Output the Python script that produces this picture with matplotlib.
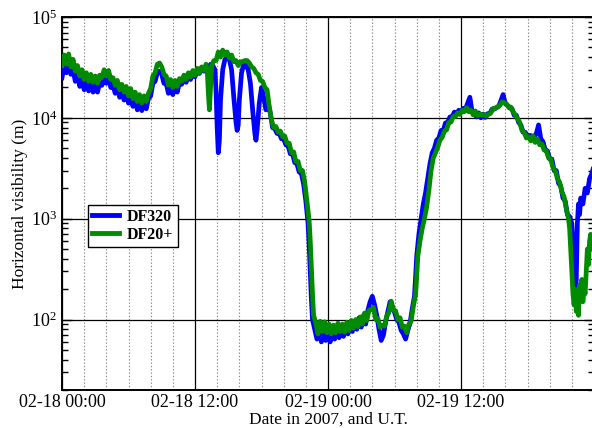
import matplotlib
matplotlib.use("Agg")
import matplotlib.pyplot as plt
import numpy as np
from matplotlib.ticker import LogLocator, NullFormatter, FixedLocator, FixedFormatter

plt.rcParams['font.family'] = ['Liberation Serif', 'DejaVu Serif']
plt.rcParams['mathtext.fontset'] = 'custom'
plt.rcParams['mathtext.rm'] = 'Liberation Serif'

# ---- data (hours since 2007-02-18 00:00 UT, visibility in m) ----
df20_hours = [0.0, 0.2, 0.4, 0.6, 0.8, 1.0, 1.2, 1.4, 1.6, 1.8, 2.0, 2.2, 2.4, 2.6, 2.8, 3.0, 3.2, 3.4, 3.6, 3.8,
              4.0, 4.2, 4.4, 4.6, 4.8, 5.0, 5.2, 5.4, 5.6, 5.8, 6.0, 6.2, 6.4, 6.6, 6.8, 7.0, 7.2, 7.4, 7.6, 7.8,
              8.0, 8.2, 8.4, 8.6, 8.8, 9.0, 9.2, 9.4, 9.6, 9.8, 10.0, 10.2, 10.4, 10.6, 10.8, 11.0, 11.2, 11.4, 11.6, 11.8,
              12.0, 12.2, 12.4, 12.6, 12.8, 13.0, 13.1, 13.2, 13.3, 13.4, 13.5, 13.7, 13.9, 14.1, 14.3, 14.5, 14.7, 14.9,
              15.1, 15.3, 15.5, 15.7, 15.9, 16.1, 16.3, 16.5, 16.7, 16.9, 17.1, 17.3, 17.5, 17.7, 17.9, 18.1, 18.3, 18.5,
              18.7, 18.9, 19.1, 19.3, 19.5, 19.7, 19.9, 20.1, 20.3, 20.5, 20.7, 20.9, 21.1, 21.3, 21.5, 21.7, 21.9, 22.1,
              22.3, 22.4, 22.5, 22.6, 22.7, 22.9, 23.1, 23.3, 23.5, 23.7, 23.9, 24.1, 24.3, 24.5, 24.7, 24.9, 25.1, 25.3,
              25.5, 25.7, 25.9, 26.1, 26.3, 26.5, 26.7, 26.9, 27.1, 27.3, 27.5, 27.7, 27.9, 28.1, 28.3, 28.5, 28.7, 28.9,
              29.1, 29.3, 29.5, 29.7, 29.9, 30.1, 30.3, 30.5, 30.7, 30.9, 31.1, 31.3, 31.5, 31.7, 31.9, 32.0, 32.1, 32.3,
              32.5, 32.7, 32.9, 33.1, 33.3, 33.5, 33.7, 33.9, 34.1, 34.3, 34.5, 34.7, 34.9, 35.1, 35.3, 35.5, 35.7, 35.9,
              36.1, 36.3, 36.5, 36.7, 36.9, 37.1, 37.3, 37.5, 37.7, 37.9, 38.1, 38.3, 38.5, 38.7, 38.9, 39.1, 39.3, 39.5,
              39.7, 39.9, 40.1, 40.3, 40.5, 40.7, 40.9, 41.1, 41.3, 41.5, 41.7, 41.9, 42.1, 42.3, 42.5, 42.7, 42.9, 43.1,
              43.3, 43.5, 43.7, 43.9, 44.1, 44.3, 44.5, 44.7, 44.9, 45.1, 45.3, 45.5, 45.7, 45.8, 45.9, 46.0, 46.1, 46.2,
              46.3, 46.4, 46.5, 46.6, 46.7, 46.8, 46.9, 47.0, 47.1, 47.2, 47.3, 47.4, 47.5, 47.6, 47.7, 47.8, 47.9]
df20_vis = [33000, 42000, 34000, 43000, 32000, 38000, 29000, 33000, 26000, 30000, 24000, 28000, 23000, 27000, 22500, 26000, 22000, 26500, 25000, 30000,
            26000, 29500, 24000, 25000, 21000, 23500, 19000, 21500, 18000, 20500, 16500, 19500, 15500, 18000, 14500, 17000, 14000, 16500, 14500, 17500,
            19500, 26000, 28000, 34000, 35000, 32000, 27000, 26000, 21000, 24000, 20000, 23500, 20500, 24500, 23000, 26500, 24000, 28000, 25500, 29500,
            26500, 31000, 28000, 32000, 29500, 34000, 30000, 18000, 12000, 20000, 33000, 37000, 37000, 45000, 40000, 47000, 42000, 45000,
            39000, 42000, 36000, 37000, 33000, 36000, 36000, 37000, 37000, 35000, 32000, 31000, 28000, 27000, 23500, 23000, 20000, 19000,
            13000, 9500, 8000, 8200, 7200, 7400, 6500, 6600, 5600, 5600, 4500, 4600, 3700, 3700, 3000, 3000, 2300, 1500,
            950, 600, 330, 180, 110, 92, 72, 96, 76, 95, 74, 90, 72, 88, 74, 92, 76, 90,
            75, 94, 78, 98, 82, 100, 85, 106, 90, 116, 98, 124, 125, 132, 100, 102, 84, 88,
            86, 108, 118, 152, 124, 122, 100, 104, 84, 86, 74, 90, 96, 135, 175, 260, 420, 600,
            800, 1000, 1300, 1900, 3000, 4000, 4500, 5100, 6000, 6400, 7400, 7600, 9000, 9100, 10300, 10300, 11200, 10800,
            11900, 11500, 12600, 11500, 11900, 10700, 11700, 10500, 10900, 10600, 10800, 10400, 10900, 11200, 12400, 12500, 12900, 13200,
            14400, 14200, 13800, 12700, 12800, 11500, 10700, 9800, 9000, 7500, 7200, 6300, 6500, 5900, 6600, 5700, 6200, 5400,
            5500, 4800, 4700, 4000, 3900, 3200, 3000, 2500, 2300, 1850, 1650, 1250, 1000, 800, 500, 300, 180, 140,
            200, 120, 160, 110, 220, 170, 250, 150, 200, 180, 300, 500, 350, 600, 700, 500, 650]

df320_hours = [0.0, 0.2, 0.4, 0.6, 0.8, 1.0, 1.2, 1.4, 1.6, 1.8, 2.0, 2.2, 2.4, 2.6, 2.8, 3.0, 3.2, 3.4, 3.6, 3.8,
               4.0, 4.2, 4.4, 4.6, 4.8, 5.0, 5.2, 5.4, 5.6, 5.8, 6.0, 6.2, 6.4, 6.6, 6.8, 7.0, 7.2, 7.4, 7.6, 7.8,
               8.0, 8.2, 8.4, 8.6, 8.8, 9.0, 9.2, 9.4, 9.6, 9.8, 10.0, 10.2, 10.4, 10.6, 10.8, 11.0, 11.2, 11.4, 11.6, 11.8,
               12.0, 12.2, 12.4, 12.6, 12.8, 13.0, 13.2, 13.4, 13.6, 13.8, 13.9, 14.0, 14.1, 14.2, 14.3, 14.5, 14.7, 14.9,
               15.1, 15.3, 15.5, 15.7, 15.8, 15.9, 16.0, 16.2, 16.4, 16.6, 16.8, 17.0, 17.2, 17.4, 17.5, 17.6, 17.8, 18.0,
               18.2, 18.4, 18.6, 18.8, 19.0, 19.2, 19.4, 19.6, 19.8, 20.0, 20.2, 20.4, 20.6, 20.8, 21.0, 21.2, 21.4, 21.6,
               21.8, 22.0, 22.2, 22.3, 22.4, 22.5, 22.6, 22.8, 23.0, 23.2, 23.4, 23.6, 23.8, 24.0, 24.2, 24.4, 24.6, 24.8,
               25.0, 25.2, 25.4, 25.6, 25.8, 26.0, 26.2, 26.4, 26.6, 26.8, 27.0, 27.2, 27.4, 27.6, 27.8, 28.0, 28.2, 28.4,
               28.6, 28.8, 29.0, 29.2, 29.4, 29.6, 29.8, 30.0, 30.2, 30.4, 30.6, 30.8, 31.0, 31.2, 31.4, 31.6, 31.8, 31.9,
               32.0, 32.2, 32.4, 32.6, 32.8, 33.0, 33.2, 33.4, 33.6, 33.8, 34.0, 34.2, 34.4, 34.6, 34.8, 35.0, 35.2, 35.4,
               35.6, 35.8, 36.0, 36.2, 36.4, 36.6, 36.8, 37.0, 37.2, 37.4, 37.6, 37.8, 38.0, 38.2, 38.4, 38.6, 38.8, 39.0,
               39.2, 39.4, 39.6, 39.8, 40.0, 40.2, 40.4, 40.6, 40.8, 41.0, 41.2, 41.4, 41.6, 41.8, 42.0, 42.2, 42.4, 42.6,
               42.8, 43.0, 43.2, 43.4, 43.6, 43.8, 44.0, 44.2, 44.4, 44.6, 44.8, 45.0, 45.2, 45.4, 45.6, 45.8, 46.0, 46.1,
               46.2, 46.3, 46.4, 46.5, 46.6, 46.7, 46.8, 47.0, 47.2, 47.4, 47.6, 47.8, 47.95]
df320_vis = [25000, 33000, 28000, 35000, 27000, 30000, 23000, 27000, 20500, 24000, 19000, 22500, 18500, 22000, 18000, 21500, 18000, 22000, 21000, 26000,
             22000, 25000, 20000, 21000, 17500, 20000, 16000, 18500, 15000, 17500, 14000, 16500, 13000, 15500, 12000, 14500, 11800, 14000, 12300, 15500,
             16500, 22000, 23000, 28000, 29000, 27000, 22000, 22000, 17500, 20500, 17000, 21000, 18000, 22500, 21500, 25000, 22500, 27000, 24000, 28500,
             25500, 30000, 27500, 31500, 29000, 33000, 30000, 34000, 33000, 30000, 18000, 8000, 4500, 6000, 15000, 30000, 38000, 40000,
             38000, 30000, 16000, 9000, 7500, 8500, 15000, 28000, 34000, 33000, 30000, 22000, 12000, 7000, 6000, 7500, 14000, 20000,
             16000, 12000, 14000, 11000, 8000, 7800, 7000, 7000, 6200, 6200, 5400, 5300, 4400, 4400, 3600, 3500, 2900, 2800,
             2200, 1500, 900, 550, 300, 160, 100, 80, 64, 84, 60, 80, 62, 78, 60, 76, 64, 80,
             66, 84, 68, 88, 72, 92, 76, 96, 80, 104, 84, 110, 90, 124, 150, 170, 140, 110,
             80, 62, 70, 95, 120, 150, 135, 118, 100, 94, 78, 72, 64, 78, 92, 128, 170, 260,
             420, 700, 1000, 1400, 1800, 2500, 3500, 4500, 5000, 6000, 6300, 7500, 7500, 8900, 9000, 10200, 10200, 11400,
             11000, 11900, 11500, 12400, 12200, 14000, 16000, 11500, 11400, 10200, 11200, 10000, 10900, 10100, 11000, 11000, 12200, 12200,
             12600, 13000, 14800, 17000, 13800, 13300, 12500, 12300, 10600, 10600, 9000, 8500, 7200, 7200, 6400, 6700, 6600, 6500,
             7000, 8500, 6200, 5800, 4800, 4700, 3900, 3900, 3000, 3000, 2250, 2100, 1600, 1500, 1100, 1050, 900, 600,
             300, 140, 250, 900, 1400, 1100, 1600, 1400, 2000, 1800, 2500, 2800, 3200]

major_hours = [0, 12, 24, 36]
major_labels = ["02-18 00:00", "02-18 12:00", "02-19 00:00", "02-19 12:00"]

W, H = 592, 428
fig = plt.figure(figsize=(W / 100, H / 100), dpi=100)
ax = fig.add_axes([62 / W, 1 - 390 / H, 532 / W, 373 / H])

blue = (0, 0, 1)
green = (0, 139 / 255, 0)
ax.plot(df320_hours, df320_vis, color=blue, lw=3.4, label="DF320", zorder=3)
ax.plot(df20_hours, df20_vis, color=green, lw=3.4, label="DF20+", zorder=4)

ax.set_yscale('log')
ax.set_ylim(20, 1e5)
ax.set_xlim(0, 48)

ax.xaxis.set_major_locator(FixedLocator(major_hours))
ax.xaxis.set_major_formatter(FixedFormatter(major_labels))
ax.xaxis.set_minor_locator(FixedLocator([h for h in range(2, 48, 2) if h % 12 != 0]))
ax.yaxis.set_major_locator(LogLocator(base=10, numticks=10))
ax.yaxis.set_minor_locator(LogLocator(base=10, subs=np.arange(2, 10), numticks=20))
ax.yaxis.set_minor_formatter(NullFormatter())

ax.grid(True, which='major', axis='both', color='black', lw=0.9)
ax.grid(True, which='minor', axis='x', color='#888888', lw=0.8, ls=(0, (1.2, 1.8)))

ax.tick_params(axis='x', which='both', length=0, labelsize=13, pad=3)
ax.tick_params(axis='y', which='major', direction='in', length=7, width=1, labelsize=13,
               right=True, left=True)
ax.tick_params(axis='y', which='minor', direction='in', length=4, width=1, right=True, left=True)
for s in ax.spines.values():
    s.set_linewidth(1.4)
ax.set_axisbelow(True)

ax.set_xlabel("Date in 2007, and U.T.", fontsize=12.5, labelpad=0)
ax.set_ylabel("Horizontal visibility (m)", fontsize=12.5, labelpad=2)

leg = ax.legend(loc='upper left', bbox_to_anchor=(26 / 532, 185 / 373), borderaxespad=0,
                fancybox=False, framealpha=1, edgecolor='black', handlelength=1.7,
                handletextpad=0.5, borderpad=0.25, labelspacing=0.1,
                prop={'family': 'Liberation Serif', 'weight': 'bold', 'size': 11.5})
leg.get_frame().set_linewidth(1.0)
for l in leg.get_lines():
    l.set_linewidth(3.5)
leg.set_zorder(10)

fig.savefig("out.png", dpi=100)
